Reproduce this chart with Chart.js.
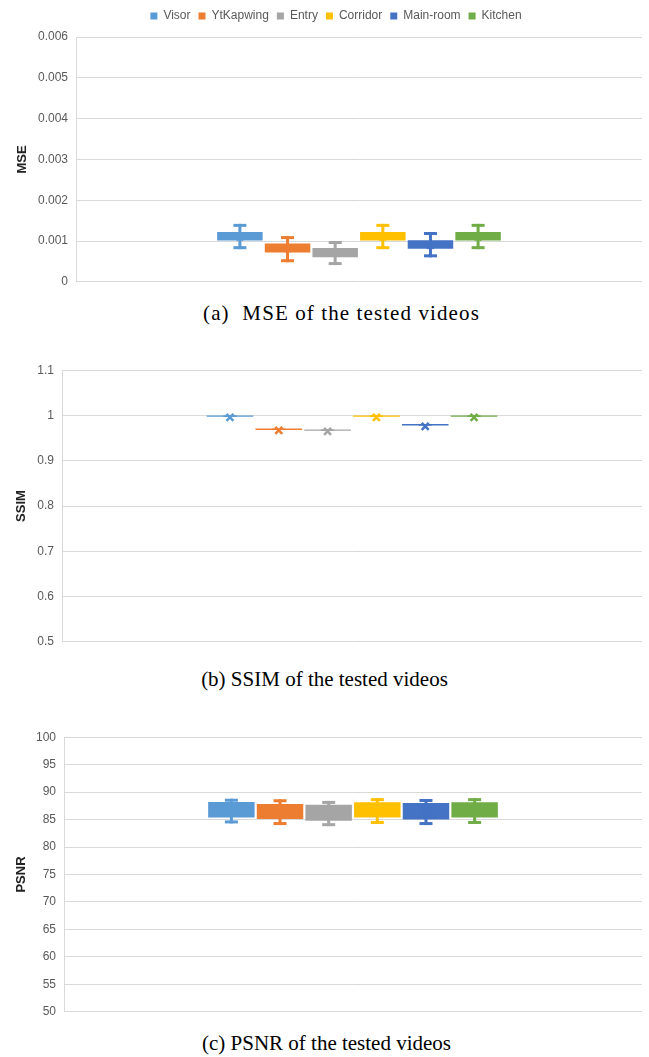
<!DOCTYPE html>
<html>
<head>
<meta charset="utf-8">
<script src="https://cdn.jsdelivr.net/npm/chart.js@4.4.1/dist/chart.umd.min.js"></script>
<style>
    html, body { margin: 0; padding: 0; background: #fff; }
    body { position: relative; width: 649px; height: 1057px; overflow: hidden; }
    canvas { position: absolute; left: 0; }
    .caption {
        position: absolute;
        left: 0;
        width: 649px;
        font-family: "Liberation Serif", "Times New Roman", serif;
        font-size: 21px;
        color: #000;
        white-space: pre;
        line-height: 22px;
        text-align: center;
    }
</style>
</head>
<body>
<canvas id="mseChart" width="649" height="297" style="top:0px"></canvas>
<div class="caption" style="top:302px; left:17px; letter-spacing:1.1px">(a)  MSE of the tested videos</div>
<canvas id="ssimChart" width="649" height="302" style="top:355px"></canvas>
<div class="caption" style="top:668px">(b) SSIM of the tested videos</div>
<canvas id="psnrChart" width="649" height="305" style="top:722px"></canvas>
<div class="caption" style="top:1032px; left:2px">(c) PSNR of the tested videos</div>

<script>
// Series (videos) and their colours
const seriesNames = ['Visor', 'YtKapwing', 'Entry', 'Corridor', 'Main-room', 'Kitchen'];
const seriesColors = ['#5B9BD5', '#ED7D31', '#A5A5A5', '#FFC000', '#4472C4', '#70AD47'];

// MSE box plot values
const mseQ1 = [0.00101, 0.00072, 0.00060, 0.00101, 0.00081, 0.00101];
const mseQ3 = [0.00122, 0.00094, 0.00083, 0.00122, 0.00102, 0.00122];
const mseMin = [0.00080, 0.00048, 0.00041, 0.00080, 0.00060, 0.00080];
const mseMax = [0.00142, 0.00112, 0.00100, 0.00142, 0.00122, 0.00142];
const mseMean = [0.00110, 0.00082, 0.00072, 0.00110, 0.00090, 0.00110];

// SSIM box plot values
const ssimQ1 = [0.997, 0.968, 0.966, 0.997, 0.978, 0.997];
const ssimQ3 = [1.000, 0.971, 0.969, 1.000, 0.981, 1.000];
const ssimMin = [0.997, 0.968, 0.966, 0.997, 0.978, 0.997];
const ssimMax = [1.000, 0.971, 0.969, 1.000, 0.981, 1.000];
const ssimMean = [0.996, 0.967, 0.965, 0.996, 0.976, 0.996];

// PSNR box plot values
const psnrQ1 = [85.4, 85.1, 84.8, 85.4, 85.0, 85.4];
const psnrQ3 = [88.2, 87.85, 87.7, 88.15, 88.0, 88.15];
const psnrMin = [84.3, 84.0, 83.8, 84.2, 84.0, 84.2];
const psnrMax = [88.8, 88.7, 88.4, 88.9, 88.75, 88.9];
const psnrMean = [86.8, 86.5, 86.3, 86.8, 86.5, 86.8];

// Axis ranges
const mseAxis = { min: 0, max: 0.006, step: 0.001 };
const ssimAxis = { min: 0.5, max: 1.1, step: 0.1 };
const psnrAxis = { min: 50, max: 100, step: 5 };

const tickColor = '#595959';
const gridColor = '#d9d9d9';

// Draws whiskers, caps and the mean cross on top of each floating bar
const boxWhiskers = {
    id: 'boxWhiskers',
    afterDatasetsDraw(chart, args, opts) {
        const ctx = chart.ctx;
        const yScale = chart.scales.y;
        chart.data.datasets.forEach((ds, i) => {
            if (!chart.isDatasetVisible(i)) return;
            const bar = chart.getDatasetMeta(i).data[0];
            if (!bar) return;
            const x = bar.x;
            const top = yScale.getPixelForValue(opts.maxs[i]);
            const bottom = yScale.getPixelForValue(opts.mins[i]);
            const mean = yScale.getPixelForValue(opts.means[i]);
            const capH = Math.min(3, Math.abs(bottom - top));
            ctx.save();
            ctx.fillStyle = ds.backgroundColor;
            ctx.strokeStyle = ds.backgroundColor;
            // stem and caps
            ctx.fillRect(x - 1.5, top, 3, bottom - top);
            ctx.fillRect(x - 6.5, top, 13, capH);
            ctx.fillRect(x - 6.5, bottom - capH, 13, capH);
            // mean marker
            ctx.lineWidth = 2.5;
            ctx.beginPath();
            ctx.moveTo(x - 3.5, mean - 3.5);
            ctx.lineTo(x + 3.5, mean + 3.5);
            ctx.moveTo(x + 3.5, mean - 3.5);
            ctx.lineTo(x - 3.5, mean + 3.5);
            ctx.stroke();
            ctx.restore();
        });
    }
};

// Nudges the legend right and up, like in the original figure
const legendNudge = {
    id: 'legendNudge',
    afterLayout(chart) {
        if (chart.legend) {
            chart.legend.left += 15;
            chart.legend.right += 15;
            chart.legend.top -= 5;
            chart.legend.bottom -= 5;
        }
    }
};

function buildDatasets(q1, q3) {
    return seriesNames.map((name, i) => ({
        label: name,
        data: [[q1[i], q3[i]]],
        backgroundColor: seriesColors[i],
        borderWidth: 0,
        categoryPercentage: 0.505,
        barPercentage: 0.955
    }));
}

function makeChart(id, title, q1, q3, mins, maxs, means, axis, opts) {
    const ctx = document.getElementById(id).getContext('2d');
    return new Chart(ctx, {
        type: 'bar',
        data: {
            labels: [''],
            datasets: buildDatasets(q1, q3)
        },
        options: {
            responsive: false,
            animation: false,
            layout: { padding: { top: opts.padTop, right: 7, bottom: 0, left: 0 } },
            plugins: {
                legend: {
                    display: opts.legend,
                    position: 'top',
                    labels: {
                        boxWidth: 7,
                        boxHeight: 7,
                        padding: 8,
                        color: tickColor,
                        font: { family: 'Liberation Sans', size: 12 }
                    }
                },
                tooltip: { enabled: false },
                boxWhiskers: { mins: mins, maxs: maxs, means: means }
            },
            scales: {
                x: {
                    display: false,
                    offset: true
                },
                y: {
                    min: axis.min,
                    max: axis.max,
                    afterFit: function(scale) {
                        scale.width = opts.left;
                    },
                    ticks: {
                        stepSize: axis.step,
                        padding: 8,
                        color: tickColor,
                        font: { family: 'Liberation Sans', size: 12 },
                        callback: opts.format
                    },
                    grid: {
                        color: gridColor,
                        drawTicks: false
                    },
                    border: { color: gridColor },
                    title: {
                        display: true,
                        text: title,
                        color: '#222',
                        padding: { top: opts.titlePad, bottom: 0 },
                        font: { family: 'Liberation Sans', size: 13, weight: 'bold' }
                    }
                }
            }
        },
        plugins: opts.legend ? [boxWhiskers, legendNudge] : [boxWhiskers]
    });
}

makeChart('mseChart', 'MSE', mseQ1, mseQ3, mseMin, mseMax, mseMean, mseAxis, {
    legend: true, padTop: 7, left: 76, titlePad: 15,
    format: v => (Math.abs(v) < 1e-9 ? '0' : v.toFixed(3))
});

makeChart('ssimChart', 'SSIM', ssimQ1, ssimQ3, ssimMin, ssimMax, ssimMean, ssimAxis, {
    legend: false, padTop: 8, left: 62, titlePad: 14,
    format: v => String(parseFloat(v.toFixed(1)))
});

makeChart('psnrChart', 'PSNR', psnrQ1, psnrQ3, psnrMin, psnrMax, psnrMean, psnrAxis, {
    legend: false, padTop: 7, left: 64, titlePad: 14,
    format: v => String(Math.round(v))
});
</script>
</body>
</html>
